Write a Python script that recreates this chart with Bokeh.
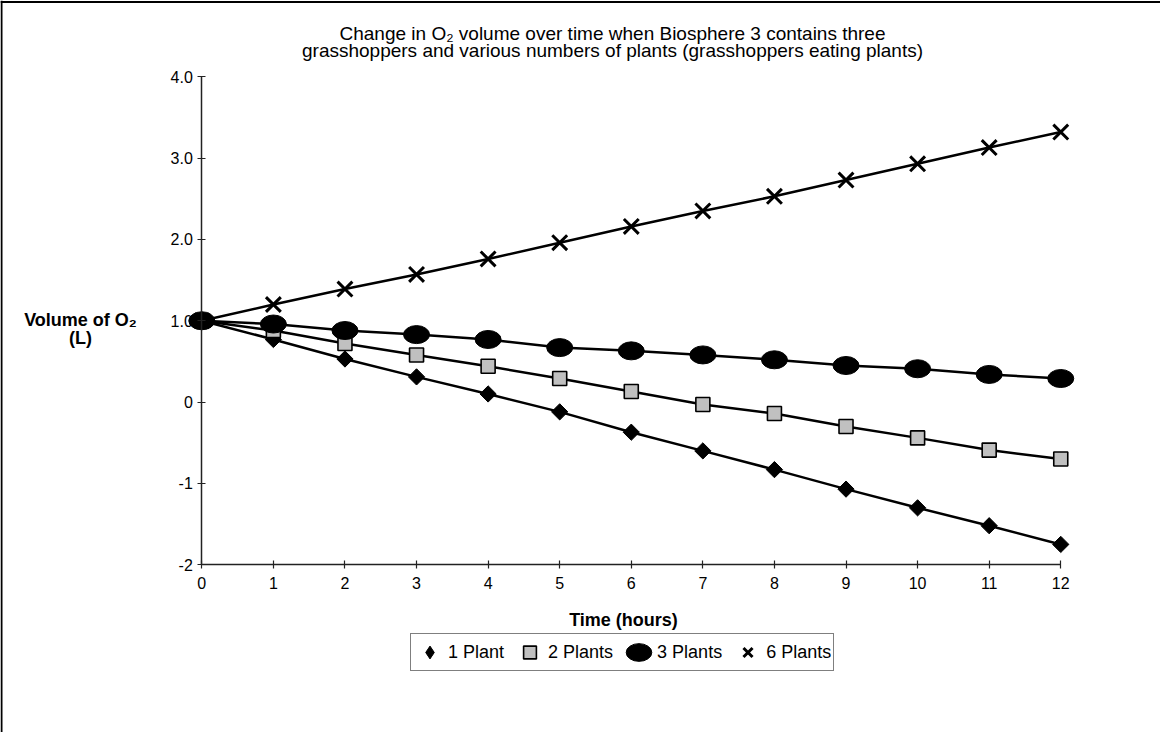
from bokeh.plotting import figure
from bokeh.models import Range1d, FixedTicker, Span, Legend, LegendItem
from bokeh.core.properties import value
from bokeh.embed import file_html
from bokeh.resources import INLINE

# ---------------- data ----------------
hours = list(range(13))
plant1 = [1.00, 0.77, 0.53, 0.31, 0.10, -0.12, -0.37, -0.60, -0.83, -1.07, -1.30, -1.52, -1.75]
plant2 = [1.00, 0.88, 0.72, 0.58, 0.44, 0.29, 0.13, -0.03, -0.14, -0.30, -0.44, -0.59, -0.70]
plant3 = [1.00, 0.96, 0.88, 0.83, 0.77, 0.67, 0.63, 0.58, 0.52, 0.45, 0.41, 0.34, 0.29]
plant6 = [1.00, 1.20, 1.39, 1.57, 1.76, 1.96, 2.16, 2.35, 2.53, 2.73, 2.93, 3.13, 3.32]
series_names = ["1 Plant", "2 Plants", "3 Plants", "6 Plants"]
x_ticks = list(range(13))
y_ticks = [-2, -1, 0, 1, 2, 3, 4]
y_tick_labels = ["-2", "-1", "0", "1.0", "2.0", "3.0", "4.0"]
title_lines = ["Change in O\u2082 volume over time when Biosphere 3 contains three",
               "grasshoppers and various numbers of plants (grasshoppers eating plants)"]
y_label_lines = ["Volume of O\u2082", "(L)"]
x_label = "Time (hours)"

# ---------------- geometry ----------------
W, H = 1160, 732
X0PX, XU = 201.3, 71.58      # figure px of t=0, px per hour
Y0PX, YU = 401.6, 81.33      # figure px of v=0, px per litre
x_start, x_end = -X0PX / XU, (W - X0PX) / XU
y_start, y_end = (Y0PX - H) / YU, Y0PX / YU


def dx(px):  # page pixel -> data x
    return (px - 8 - X0PX) / XU


def dy(py):  # page pixel -> data y
    return (Y0PX - (py - 8)) / YU


FONT = "Liberation Sans"

p = figure(width=W, height=H, x_range=Range1d(x_start, x_end), y_range=Range1d(y_start, y_end),
           output_backend="svg", toolbar_location=None, min_border=0)
p.grid.visible = False
p.outline_line_color = None
p.background_fill_color = "white"
p.border_fill_color = "white"

for ax in (p.xaxis[0], p.yaxis[0]):
    ax.major_tick_in = 4
    ax.major_tick_out = 4
    ax.minor_tick_line_color = None
    ax.axis_line_width = 1.5
    ax.axis_line_color = "#222222"
    ax.major_tick_line_color = "#222222"
    ax.major_tick_line_width = 1.2
    ax.major_label_text_font = FONT
    ax.major_label_text_font_size = "16px"
    ax.major_label_text_color = "black"

p.xaxis.major_label_standoff = 8
p.yaxis.major_label_standoff = 5
p.xaxis.fixed_location = -2
p.xaxis.bounds = (0, 12)
p.xaxis.ticker = FixedTicker(ticks=x_ticks)
p.yaxis.fixed_location = 0
p.yaxis.bounds = (-2, 4)
p.yaxis.ticker = FixedTicker(ticks=y_ticks)
p.yaxis.major_label_overrides = {t: l for t, l in zip(y_ticks, y_tick_labels)}

# lines
for vals in (plant1, plant2, plant3, plant6):
    p.line(hours, vals, line_color="black", line_width=2.5)

# markers
r1 = p.scatter(hours, plant1, marker="square", angle=0.785398, size=11.5,
               fill_color="black", line_color="black", line_width=1)
r2 = p.scatter(hours, plant2, marker="square", size=14,
               fill_color="#c0c0c0", line_color="black", line_width=1.6)
r3 = p.ellipse(hours, plant3, width=26, height=18, width_units="screen", height_units="screen",
               fill_color="black", line_color="black")
r6 = p.scatter(hours, plant6, marker="x", size=21, line_color="black", line_width=3)
# legend-only diamond (the rotated square loses its angle inside a legend)
r1_key = p.scatter(hours, plant1, marker="diamond", fill_color="black",
                   line_color="black", visible=False)

# texts
p.text(x=[dx(620), dx(620)], y=[dy(41), dy(58)], text=title_lines,
       text_font=value(FONT), text_font_size="19px", text_align="center",
       text_baseline="middle", text_color="black")
p.text(x=[dx(88), dx(88)], y=[dy(327), dy(345)], text=y_label_lines,
       text_font=value(FONT), text_font_size="18px", text_font_style="bold",
       text_align="center", text_baseline="middle", text_color="black")
p.text(x=[dx(631)], y=[dy(627)], text=[x_label],
       text_font=value(FONT), text_font_size="18px", text_font_style="bold",
       text_align="center", text_baseline="middle", text_color="black")

# frame border (left & top)
p.add_layout(Span(location=x_start + 1.0 / XU, dimension="height", line_color="black", line_width=2))
p.add_layout(Span(location=y_end - 1.5 / YU, dimension="width", line_color="black", line_width=2))

legend = Legend(items=[LegendItem(label=n, renderers=[r]) for n, r in
                       zip(series_names, (r1_key, r2, r3, r6))],
                orientation="horizontal", location=(410, 61))
legend.border_line_color = "black"
legend.border_line_width = 1
legend.background_fill_color = "white"
legend.background_fill_alpha = 1
legend.label_text_font = FONT
legend.label_text_font_size = "18px"
legend.label_text_color = "black"
legend.glyph_width = 33
legend.glyph_height = 32
legend.spacing = 9
legend.padding = 2
legend.margin = 0
legend.label_standoff = 2
p.add_layout(legend, "center")

open("out.html", "w").write(file_html(p, INLINE))
